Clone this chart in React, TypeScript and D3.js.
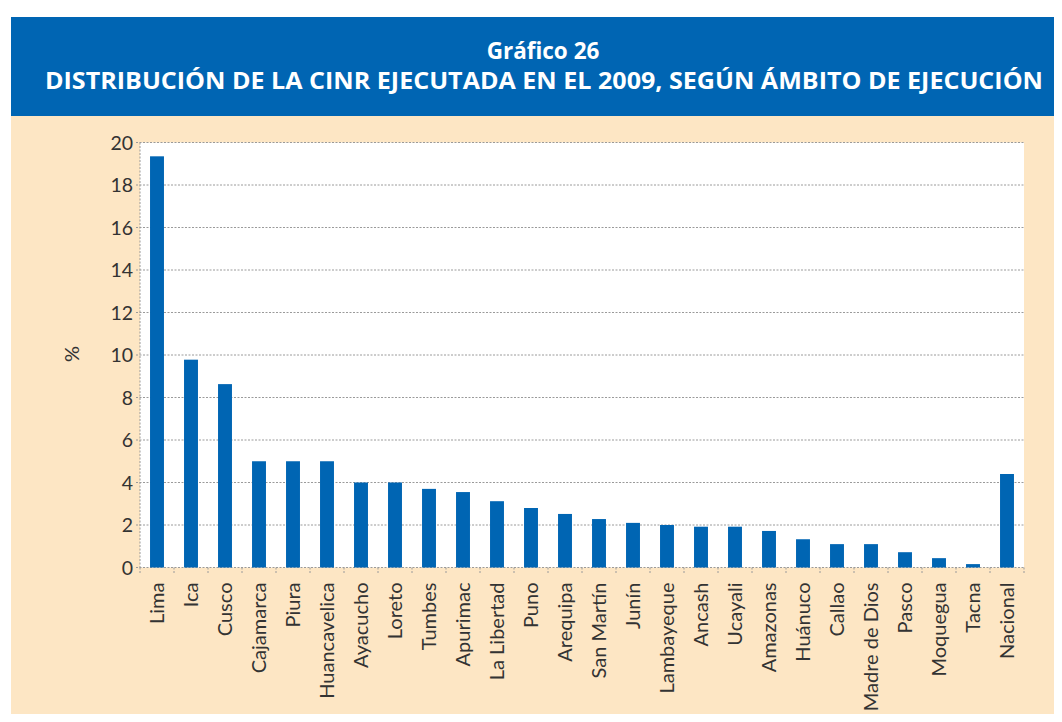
import React, { useEffect, useRef } from "react";
import * as d3 from "d3";

const categories = [
  "Lima", "Ica", "Cusco", "Cajamarca", "Piura", "Huancavelica", "Ayacucho", "Loreto",
  "Tumbes", "Apurimac", "La Libertad", "Puno", "Arequipa", "San Martín", "Junín",
  "Lambayeque", "Ancash", "Ucayali", "Amazonas", "Huánuco", "Callao", "Madre de Dios",
  "Pasco", "Moquegua", "Tacna", "Nacional",
];
const values = [
  19.35, 9.78, 8.63, 5.0, 5.0, 5.0, 4.0, 4.0,
  3.7, 3.55, 3.12, 2.8, 2.52, 2.28, 2.1,
  2.0, 1.92, 1.92, 1.72, 1.33, 1.1, 1.1,
  0.72, 0.44, 0.16, 4.4,
];
const yTicks = [0, 2, 4, 6, 8, 10, 12, 14, 16, 18, 20];
const titleLine1 = "Gráfico 26";
const titleLine2 = "DISTRIBUCIÓN DE LA CINR EJECUTADA EN EL 2009, SEGÚN ÁMBITO DE EJECUCIÓN";
const yLabel = "%";

const W = 1062, H = 722;
const M = { left: 140, right: 1024, top: 142.5, bottom: 567.5 };
const FONT = "Lato, 'Open Sans', sans-serif";

export default function App() {
  const ref = useRef<SVGSVGElement>(null);
  useEffect(() => {
    const svg = d3.select(ref.current);
    svg.selectAll("*").remove();

    svg.append("rect").attr("x", 0).attr("y", 0).attr("width", W).attr("height", H).attr("fill", "#ffffff");
    svg.append("rect").attr("x", 11).attr("y", 116).attr("width", W - 11).attr("height", H - 116).attr("fill", "#fde6c4");
    svg.append("rect").attr("x", 11).attr("y", 17).attr("width", W - 11).attr("height", 99).attr("fill", "#0065b3");

    svg.append("text").text(titleLine1)
      .attr("x", 543).attr("y", 59).attr("text-anchor", "middle")
      .attr("fill", "#fff").attr("font-family", "'Open Sans', sans-serif").attr("font-weight", 700)
      .attr("font-size", 22.5);
    svg.append("text").text(titleLine2)
      .attr("x", 45).attr("y", 89)
      .attr("textLength", 998).attr("lengthAdjust", "spacingAndGlyphs")
      .attr("fill", "#fff").attr("font-family", "'Open Sans', sans-serif").attr("font-weight", 700)
      .attr("font-size", 23);

    const x = d3.scaleBand<string>().domain(categories).range([M.left, M.right]).paddingInner(0.59).paddingOuter(0.295);
    const xb = d3.scaleBand<string>().domain(categories).range([M.left, M.right]).padding(0);
    const y = d3.scaleLinear().domain([0, 20]).range([M.bottom, M.top]);

    svg.append("rect").attr("x", M.left).attr("y", M.top).attr("width", M.right - M.left)
      .attr("height", M.bottom - M.top).attr("fill", "#ffffff");

    const g = svg.append("g");
    g.selectAll("line.grid").data(yTicks).join("line")
      .attr("x1", M.left - 4).attr("x2", M.right)
      .attr("y1", (d) => y(d)).attr("y2", (d) => y(d))
      .attr("stroke", "#9a9a9a").attr("stroke-width", 1).attr("stroke-dasharray", "2,1.5");

    g.append("line").attr("x1", M.left).attr("x2", M.left).attr("y1", M.top).attr("y2", M.bottom)
      .attr("stroke", "#9a9a9a").attr("stroke-dasharray", "2,1.5");
    g.append("line").attr("x1", M.right).attr("x2", M.right).attr("y1", M.bottom).attr("y2", M.bottom + 7)
      .attr("stroke", "#9a9a9a").attr("stroke-dasharray", "2,1.5");

    const bounds = categories.map((c) => xb(c) as number);
    g.selectAll("line.xt").data(bounds).join("line")
      .attr("x1", (d) => d).attr("x2", (d) => d)
      .attr("y1", M.bottom).attr("y2", M.bottom + 7)
      .attr("stroke", "#9a9a9a").attr("stroke-dasharray", "2,1.5");

    g.selectAll("rect.bar").data(values).join("rect")
      .attr("x", (_, i) => x(categories[i]) as number)
      .attr("width", x.bandwidth())
      .attr("y", (d) => y(d))
      .attr("height", (d) => y(0) - y(d))
      .attr("fill", "#0065b3");

    g.selectAll("text.yl").data(yTicks).join("text")
      .text((d) => String(d))
      .attr("x", M.left - 7).attr("y", (d) => y(d)).attr("dy", "0.36em")
      .attr("text-anchor", "end").attr("fill", "#333")
      .attr("font-family", FONT).attr("font-size", 19.5);

    g.selectAll("text.xl").data(categories).join("text")
      .text((d) => d)
      .attr("transform", (d) => `translate(${(xb(d) as number) + xb.bandwidth() / 2 + 7},${M.bottom + 15}) rotate(-90)`)
      .attr("text-anchor", "end").attr("fill", "#333")
      .attr("font-family", FONT).attr("font-size", 20);

    svg.append("text").text(yLabel)
      .attr("transform", `translate(79,354) rotate(-90)`)
      .attr("text-anchor", "middle").attr("fill", "#333")
      .attr("font-family", FONT).attr("font-size", 20);
  }, []);
  return <svg ref={ref} width={W} height={H} style={{ display: "block", margin: -8 }} />;
}
